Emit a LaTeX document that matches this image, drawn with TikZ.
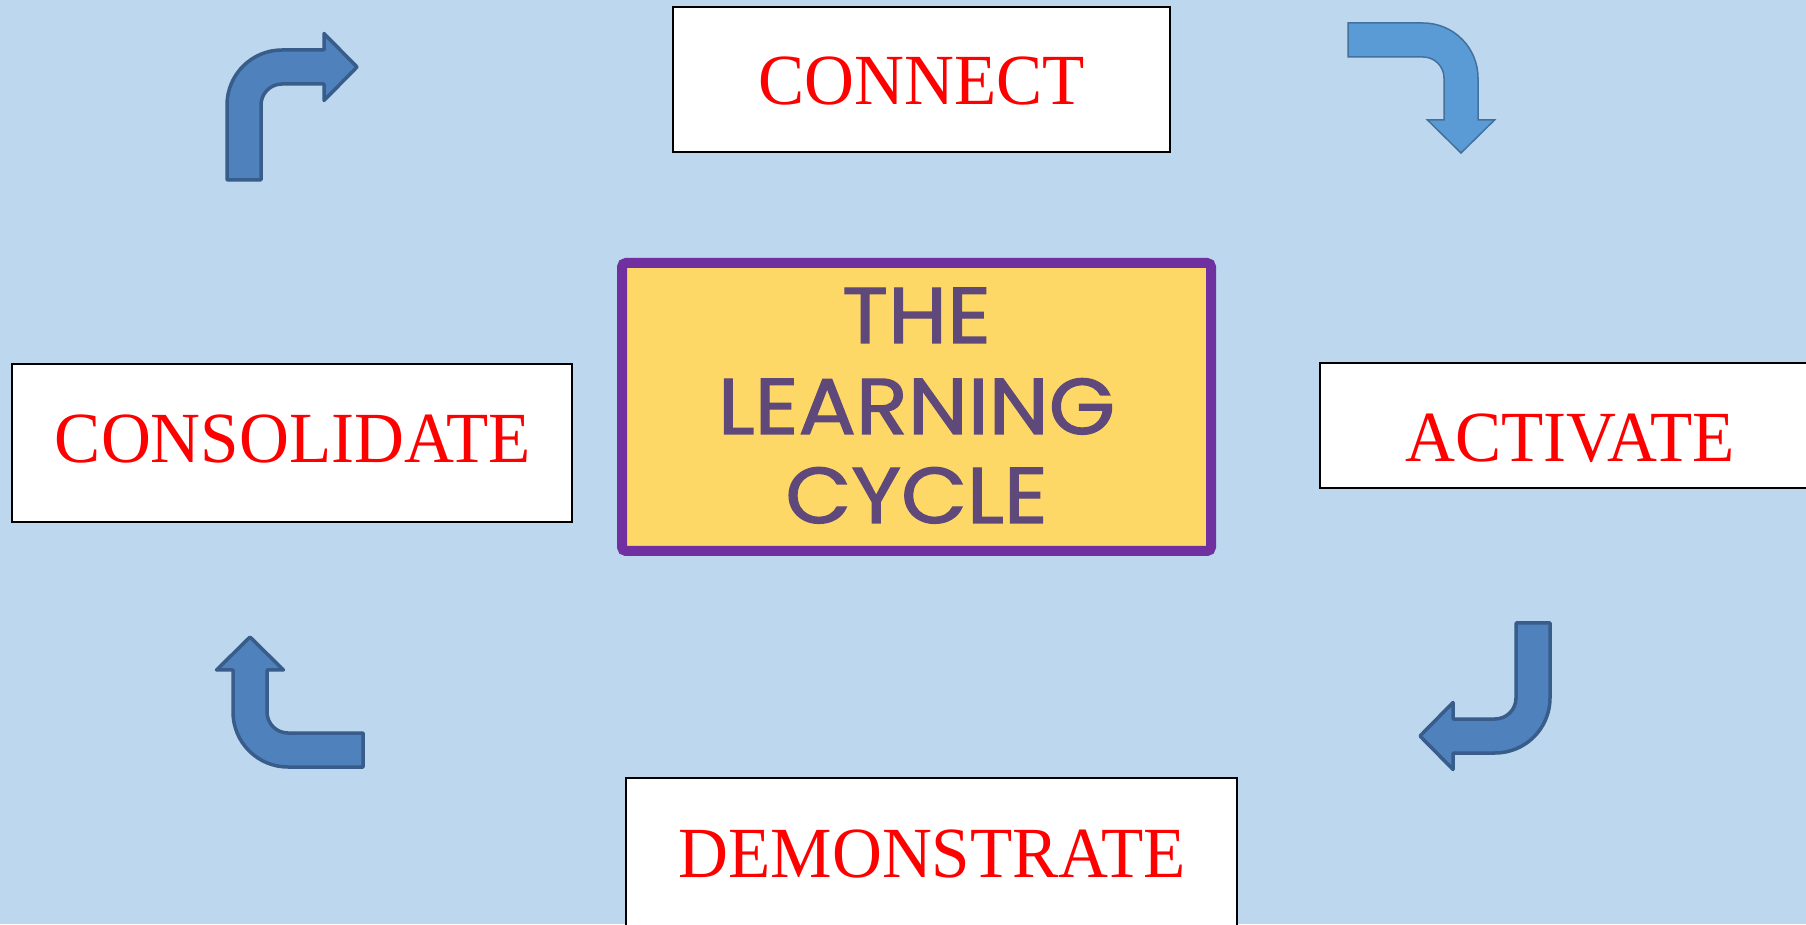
\documentclass[tikz,border=0pt]{standalone}
\usepackage{fontspec}
\newfontfamily\stagefont[FakeStretch=0.96]{Liberation Serif}
\newfontfamily\titlefont[FakeBold=1.6, FakeStretch=1.08]{Poppins}

\definecolor{bgblue}{HTML}{BDD7EE}
\definecolor{arrowfill}{HTML}{4F81BD}
\definecolor{arrowline}{HTML}{385D8A}
\definecolor{arrowfilllight}{HTML}{5B9BD5}
\definecolor{arrowlinelight}{HTML}{41719C}
\definecolor{titlefill}{HTML}{FED866}
\definecolor{titleframe}{HTML}{7030A0}
\definecolor{titleink}{HTML}{5F497A}

% bent arrow in local coordinates: leaves upward from the base edge
% (0,0)--(34,0), turns right and ends in a head pointing along +x
\newcommand{\bentarrowpath}{%
  (0,0) -- (34,0) -- (34,75)
  arc[start angle=180, end angle=90, radius=21]
  -- (97,96) -- (97,79.5) -- (130,113) -- (97,146.5) -- (97,130)
  -- (55,130)
  arc[start angle=90, end angle=180, radius=55]
  -- cycle}

\tikzset{
  stagebox/.style={draw=black, line width=2pt, fill=white, rectangle, inner sep=0pt},
  stagetext/.style={anchor=base, inner sep=0pt, text=red,
    font=\stagefont\fontsize{72}{72}\selectfont},
  titlebox/.style={draw=titleframe, line width=10pt, fill=titlefill,
    rounded corners=4pt, rectangle, inner sep=0pt},
  titletext/.style={anchor=base, inner sep=0pt, text=titleink,
    font=\titlefont\fontsize{79}{79}\selectfont},
  darkarrow/.style={fill=arrowfill, draw=arrowline, line width=3.5pt, line join=round},
  lightarrow/.style={fill=arrowfilllight, draw=arrowlinelight, line width=1.5pt, line join=miter},
}

\begin{document}
\begin{tikzpicture}[x=1pt, y=1pt]
  \useasboundingbox (0,0) rectangle (1806,924);
  \clip (0,0) rectangle (1806,924);
  \fill[bgblue] (0,0) rectangle (1806,924);

  % centre panel
  \node[titlebox, minimum width=589pt, minimum height=288pt] (title) at (916.5,517) {};
  \node[titletext] (title-1) at (916.5,581) {THE};
  \node[titletext] (title-2) at (916.5,490) {LEARNING};
  \node[titletext] (title-3) at (916.5,401) {CYCLE};

  % the four stages
  \node[stagebox, minimum width=497pt, minimum height=145pt] (connect) at (921.5,844.5) {};
  \node[stagetext] (connect-t) at (922,819) {CONNECT};

  \node[stagebox, minimum width=510pt, minimum height=125pt] (activate) at (1575,498.5) {};
  \node[stagetext] (activate-t) at (1570,462) {ACTIVATE};

  \node[stagebox, minimum width=611pt, minimum height=166pt] (demonstrate) at (931.5,63) {};
  \node[stagetext] (demonstrate-t) at (932,47) {DEMONSTRATE};

  \node[stagebox, minimum width=560pt, minimum height=158pt] (consolidate) at (292,481) {};
  \node[stagetext] (consolidate-t) at (293,461) {CONSOLIDATE};

  % bent arrows running clockwise round the cycle
  \begin{scope}[shift={(227,744)}]
    \path[darkarrow] \bentarrowpath;
  \end{scope}
  \begin{scope}[shift={(1348,901)}, rotate=-90]
    \path[lightarrow] \bentarrowpath;
  \end{scope}
  \begin{scope}[shift={(1550,301)}, rotate=180]
    \path[darkarrow] \bentarrowpath;
  \end{scope}
  \begin{scope}[shift={(363,157)}, rotate=90]
    \path[darkarrow] \bentarrowpath;
  \end{scope}
\end{tikzpicture}
\end{document}
